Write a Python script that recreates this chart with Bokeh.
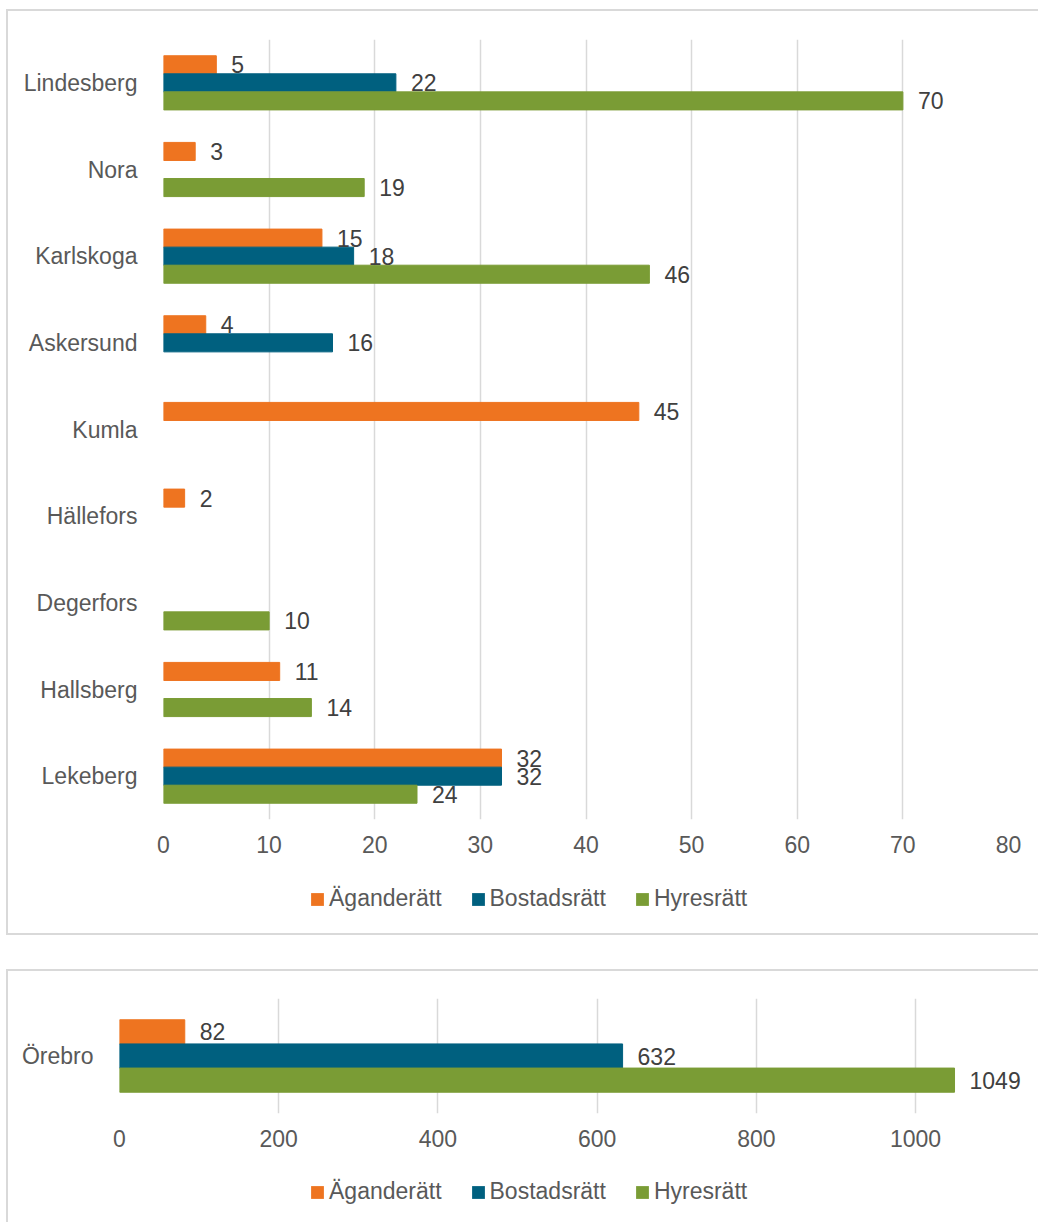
from bokeh.plotting import figure
from bokeh.models import ColumnDataSource, FactorRange, Range1d, LabelSet, Legend, LegendItem, FixedTicker
from bokeh.transform import dodge
from bokeh.layouts import column
from bokeh.core.properties import value
from bokeh.embed import file_html
from bokeh.resources import INLINE

# ---- data ----
categories = ["Lindesberg", "Nora", "Karlskoga", "Askersund", "Kumla",
              "Hällefors", "Degerfors", "Hallsberg", "Lekeberg"]
aganderatt = [5, 3, 15, 4, 45, 2, None, 11, 32]
bostadsratt = [22, None, 18, 16, None, None, None, None, 32]
hyresratt = [70, 19, 46, None, None, None, 10, 14, 24]
x_ticks_1 = [0, 10, 20, 30, 40, 50, 60, 70, 80]

orebro_categories = ["Örebro"]
orebro_aganderatt = [82]
orebro_bostadsratt = [632]
orebro_hyresratt = [1049]
x_ticks_2 = [0, 200, 400, 600, 800, 1000]

series_names = ["Äganderätt", "Bostadsrätt", "Hyresrätt"]
colors = ["#EE7420", "#00607F", "#7A9C35"]

FONT = "Liberation Sans"
FS = "23px"
GREY = "#595959"
LABEL = "#404040"
BORDER = "2px solid #d9d9d9"


def make_chart(cats, series, x_end, ticks, width, height, mb, bar_h):
    p = figure(width=width, height=height, output_backend="svg", toolbar_location=None,
               y_range=FactorRange(*list(reversed(cats)), range_padding=0),
               x_range=Range1d(0, x_end),
               min_border_left=mb[0], min_border_right=mb[1], min_border_top=mb[2],
               min_border_bottom=mb[3])
    p.outline_line_color = None
    p.ygrid.grid_line_color = None
    p.xgrid.grid_line_color = "#d9d9d9"
    p.xgrid.grid_line_width = 1.5
    p.xgrid.ticker = FixedTicker(ticks=ticks)
    p.xaxis.ticker = FixedTicker(ticks=ticks)
    for ax in (p.xaxis[0], p.yaxis[0]):
        ax.axis_line_color = None
        ax.major_tick_line_color = None
        ax.minor_tick_line_color = None
        ax.major_label_text_font = FONT
        ax.major_label_text_font_size = FS
        ax.major_label_text_color = GREY
    p.xaxis.major_label_standoff = 10
    p.yaxis.major_label_standoff = 20

    offsets = [bar_h, 0.0, -bar_h]
    for name, vals, col, off in zip(series_names, series, colors, offsets):
        cs = [c for c, v in zip(cats, vals) if v is not None]
        vs = [v for v in vals if v is not None]
        src = ColumnDataSource(dict(cat=cs, val=vs, lab=[str(v) for v in vs]))
        p.hbar(y=dodge("cat", off, range=p.y_range), left=0, right="val", height=bar_h,
               fill_color=col, line_color=col, source=src)
        lbl = LabelSet(x="val", y=dodge("cat", off, range=p.y_range), text="lab", source=src,
                       x_offset=15, text_baseline="middle", text_align="left",
                       text_font=value(FONT), text_font_size=value(FS), text_color=LABEL)
        p.add_layout(lbl)
    return p


def make_legend(width, height, mb_left, mb_right, loc):
    p = figure(width=width, height=height, output_backend="svg", toolbar_location=None,
               x_range=Range1d(0, 1), y_range=Range1d(0, 1),
               x_axis_location=None, y_axis_location=None,
               min_border_left=mb_left, min_border_right=mb_right,
               min_border_top=0, min_border_bottom=0)
    p.outline_line_color = None
    p.grid.visible = False
    items = []
    for name, col in zip(series_names, colors):
        # zero-size placeholder renderer; only its legend swatch shows
        r = p.hbar(y=[0.5], left=[0], right=[0], height=0, fill_color=col, line_color=None)
        items.append(LegendItem(label=name, renderers=[r]))
    leg = Legend(items=items, orientation="horizontal", location=loc,
                 glyph_width=16, glyph_height=16, label_standoff=4, spacing=28,
                 padding=0, margin=0, border_line_alpha=0, background_fill_alpha=0,
                 label_text_font=FONT, label_text_font_size=FS, label_text_color=GREY)
    p.add_layout(leg, "center")
    return p


# chart 1
p1 = make_chart(categories, [aganderatt, bostadsratt, hyresratt], 80, x_ticks_1,
                1032, 861, (155, 32, 28, 53), 0.2083)
p1.styles = {"border-top": BORDER, "border-left": BORDER}
p1.margin = (9, 0, 0, 6)
l1 = make_legend(1032, 65, 155, 32, (146, 23))
l1.styles = {"border-left": BORDER, "border-bottom": BORDER}
l1.margin = (0, 0, 0, 6)

# chart 2
p2 = make_chart(orebro_categories, [orebro_aganderatt, orebro_bostadsratt, orebro_hyresratt],
                1157, x_ticks_2, 1032, 196, (111, 0, 27, 54), 0.21)
p2.styles = {"border-top": BORDER, "border-left": BORDER}
p2.margin = (34, 0, 0, 6)
l2 = make_legend(1032, 57, 111, 0, (190, 17))
l2.styles = {"border-left": BORDER}
l2.margin = (0, 0, 0, 6)

layout = column(column(p1, l1, spacing=0), column(p2, l2, spacing=0), spacing=0)
open("out.html", "w").write(file_html(layout, INLINE))
